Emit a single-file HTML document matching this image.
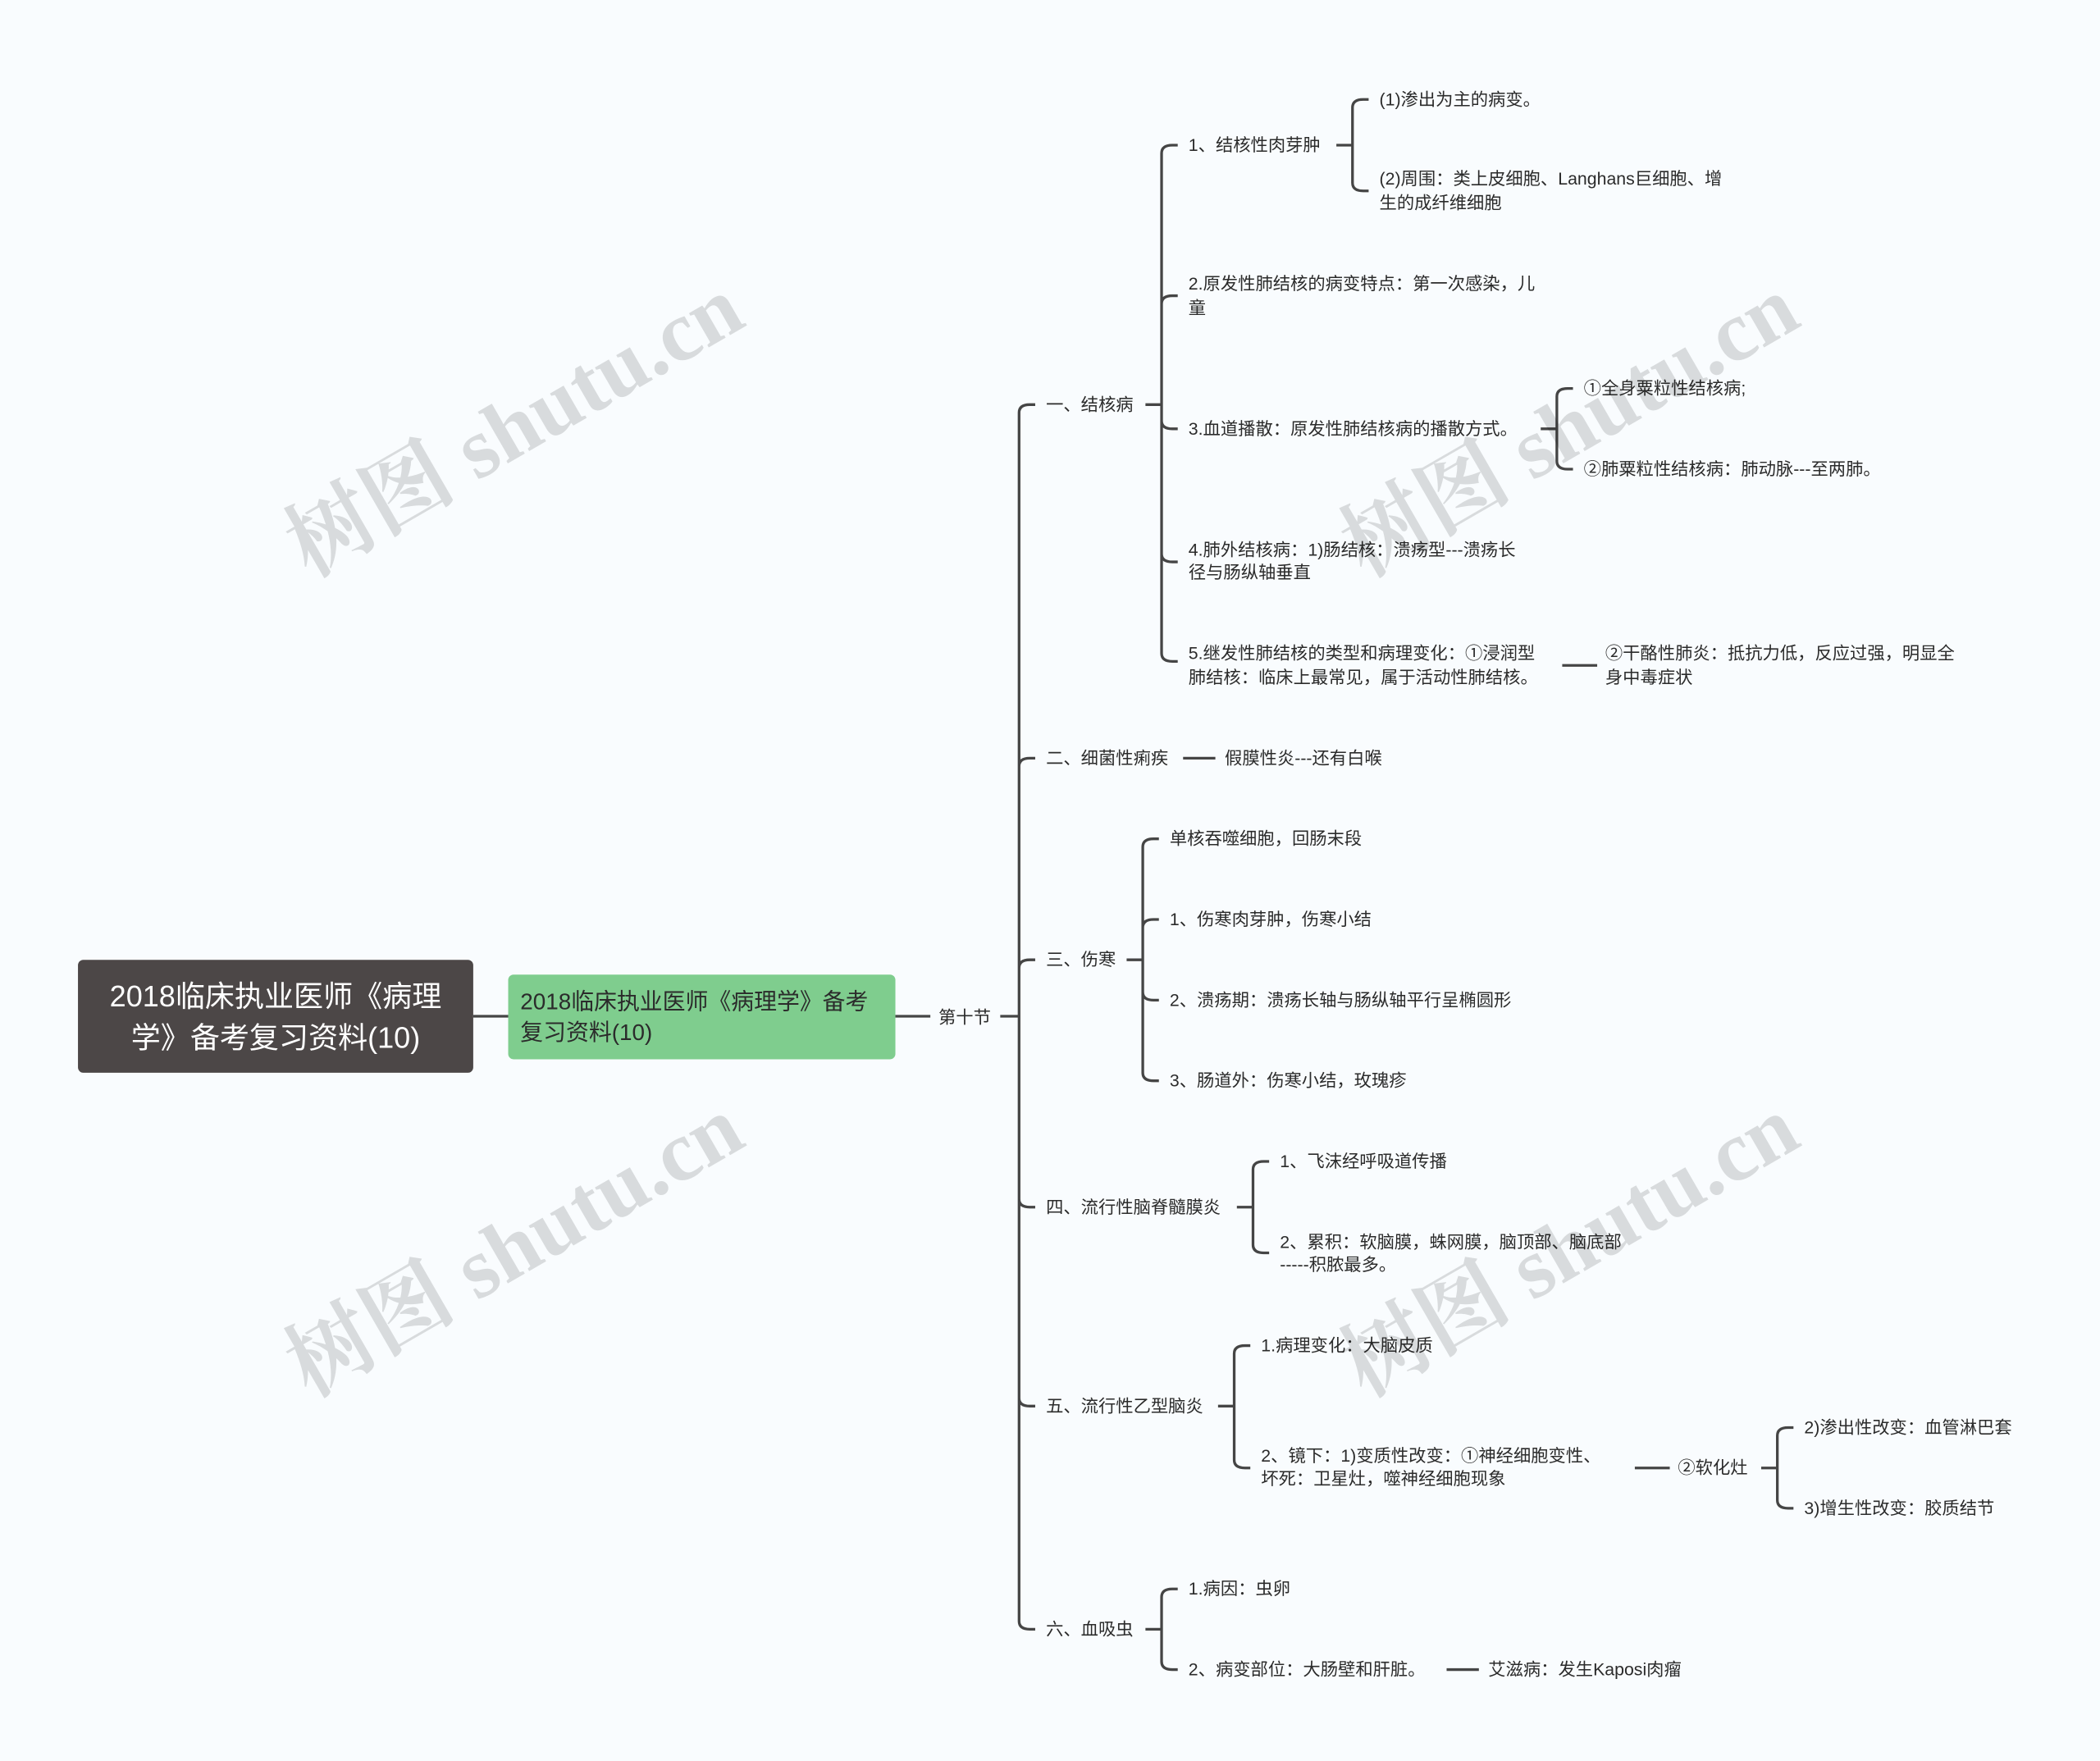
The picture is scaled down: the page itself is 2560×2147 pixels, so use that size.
<!DOCTYPE html>
<html><head><meta charset="utf-8"><style>
html,body{margin:0;padding:0;background:#f9fcfe;}
svg{display:block}
text{font-family:"Liberation Sans","Noto Sans CJK SC",sans-serif;font-size:13px;fill:#2b2b2b;dominant-baseline:central}
.wm{font-size:64px;fill:#000;fill-opacity:0.13;font-family:"Liberation Serif","Noto Serif CJK SC",serif;font-weight:bold;dominant-baseline:auto}
path{fill:none;stroke:#454545;stroke-width:2;}
</style></head><body>
<svg width="2560" height="2147" viewBox="0 0 1562 1310" xmlns="http://www.w3.org/2000/svg">
<rect width="1562" height="1310" fill="#f9fcfe"/>
<!-- root -->
<rect x="58" y="714" width="294" height="84" rx="4" fill="#4c4747"/>
<text x="205" y="741" text-anchor="middle" style="font-size:22px;fill:#fff">2018临床执业医师《病理</text>
<text x="205" y="772" text-anchor="middle" style="font-size:22px;fill:#fff">学》备考复习资料(10)</text>
<path d="M352 756 L378 756"/>
<rect x="378" y="725" width="288" height="63" rx="4" fill="#7fcd8e"/>
<text x="387" y="745" style="font-size:17px">2018临床执业医师《病理学》备考</text>
<text x="387" y="768" style="font-size:17px">复习资料(10)</text>
<path d="M666 756 L692 756"/>
<text x="698" y="757">第十节</text>
<path d="M744 756 L758 756"/>
<!-- trunk -->
<path d="M758 756 L758 307 Q758 301 766 301 L770 301 M758 756 L758 570 Q758 564 766 564 L770 564 M758 756 L758 720 Q758 714 766 714 L770 714 M758 756 L758 892 Q758 898 766 898 L770 898 M758 756 L758 1040 Q758 1046 766 1046 L770 1046 M758 756 L758 1206 Q758 1212 766 1212 L770 1212"/>
<text x="778" y="301">一、结核病</text>
<text x="778" y="564">二、细菌性痢疾</text>
<text x="778" y="714">三、伤寒</text>
<text x="778" y="898">四、流行性脑脊髓膜炎</text>
<text x="778" y="1046">五、流行性乙型脑炎</text>
<text x="778" y="1212">六、血吸虫</text>
<!-- 一 -->
<path d="M852 301 L864 301 M864 301 L864 114 Q864 108 872 108 L876 108 M864 301 L864 226 Q864 220 872 220 L876 220 M864 301 L864 313 Q864 319 872 319 L876 319 M864 301 L864 412 Q864 418 872 418 L876 418 M864 301 L864 486 Q864 492 872 492 L876 492"/>
<text x="884" y="108">1、结核性肉芽肿</text>
<text x="884" y="211">2.原发性肺结核的病变特点：第一次感染，儿</text>
<text x="884" y="229">童</text>
<text x="884" y="319">3.血道播散：原发性肺结核病的播散方式。</text>
<text x="884" y="409">4.肺外结核病：1)肠结核：溃疡型---溃疡长</text>
<text x="884" y="426">径与肠纵轴垂直</text>
<text x="884" y="486">5.继发性肺结核的类型和病理变化：①浸润型</text>
<text x="884" y="504">肺结核：临床上最常见，属于活动性肺结核。</text>
<path d="M994 108 L1006 108 M1006 108 L1006 80 Q1006 74 1014 74 L1018 74 M1006 108 L1006 136 Q1006 142 1014 142 L1018 142"/>
<text x="1026" y="74">(1)渗出为主的病变。</text>
<text x="1026" y="133">(2)周围：类上皮细胞、Langhans巨细胞、增</text>
<text x="1026" y="151">生的成纤维细胞</text>
<path d="M1146 319 L1158 319 M1158 319 L1158 295 Q1158 289 1166 289 L1170 289 M1158 319 L1158 343 Q1158 349 1166 349 L1170 349"/>
<text x="1178" y="289">①全身粟粒性结核病;</text>
<text x="1178" y="349">②肺粟粒性结核病：肺动脉---至两肺。</text>
<path d="M1162 495 L1188 495"/>
<text x="1194" y="486">②干酪性肺炎：抵抗力低，反应过强，明显全</text>
<text x="1194" y="504">身中毒症状</text>
<!-- 二 -->
<path d="M880 564 L904 564"/>
<text x="911" y="564">假膜性炎---还有白喉</text>
<!-- 三 -->
<path d="M838 714 L850 714 M850 714 L850 630 Q850 624 858 624 L862 624 M850 714 L850 690 Q850 684 858 684 L862 684 M850 714 L850 738 Q850 744 858 744 L862 744 M850 714 L850 798 Q850 804 858 804 L862 804"/>
<text x="870" y="624">单核吞噬细胞，回肠末段</text>
<text x="870" y="684">1、伤寒肉芽肿，伤寒小结</text>
<text x="870" y="744">2、溃疡期：溃疡长轴与肠纵轴平行呈椭圆形</text>
<text x="870" y="804">3、肠道外：伤寒小结，玫瑰疹</text>
<!-- 四 -->
<path d="M920 898 L932 898 M932 898 L932 870 Q932 864 940 864 L944 864 M932 898 L932 926 Q932 932 940 932 L944 932"/>
<text x="952" y="864">1、飞沫经呼吸道传播</text>
<text x="952" y="924">2、累积：软脑膜，蛛网膜，脑顶部、脑底部</text>
<text x="952" y="941">-----积脓最多。</text>
<!-- 五 -->
<path d="M906 1046 L918 1046 M918 1046 L918 1007 Q918 1001 926 1001 L930 1001 M918 1046 L918 1086 Q918 1092 926 1092 L930 1092"/>
<text x="938" y="1001">1.病理变化：大脑皮质</text>
<text x="938" y="1083">2、镜下：1)变质性改变：①神经细胞变性、</text>
<text x="938" y="1100">坏死：卫星灶，噬神经细胞现象</text>
<path d="M1216 1092 L1242 1092"/>
<text x="1248" y="1092">②软化灶</text>
<path d="M1310 1092 L1322 1092 M1322 1092 L1322 1068 Q1322 1062 1330 1062 L1334 1062 M1322 1092 L1322 1116 Q1322 1122 1330 1122 L1334 1122"/>
<text x="1342" y="1062">2)渗出性改变：血管淋巴套</text>
<text x="1342" y="1122">3)增生性改变：胶质结节</text>
<!-- 六 -->
<path d="M852 1212 L864 1212 M864 1212 L864 1188 Q864 1182 872 1182 L876 1182 M864 1212 L864 1236 Q864 1242 872 1242 L876 1242"/>
<text x="884" y="1182">1.病因：虫卵</text>
<text x="884" y="1242">2、病变部位：大肠壁和肝脏。</text>
<path d="M1076 1242 L1100 1242"/>
<text x="1107" y="1242">艾滋病：发生Kaposi肉瘤</text>
<!-- watermarks -->
<text class="wm" transform="translate(230,430) rotate(-30)">树图 shutu.cn</text>
<text class="wm" transform="translate(1015,430) rotate(-30)">树图 shutu.cn</text>
<text class="wm" transform="translate(230,1040) rotate(-30)">树图 shutu.cn</text>
<text class="wm" transform="translate(1015,1040) rotate(-30)">树图 shutu.cn</text>
</svg>
</body></html>
